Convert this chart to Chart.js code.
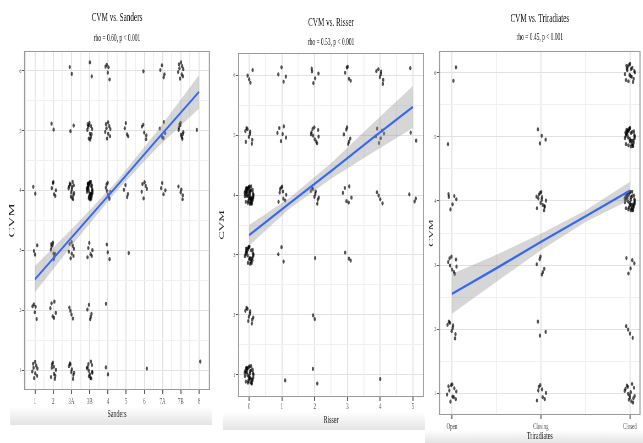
<!DOCTYPE html>
<html>
<head>
<meta charset="utf-8">
<script src="https://cdn.jsdelivr.net/npm/chart.js@4.4.0/dist/chart.umd.min.js"></script>
<style>
  html, body { margin: 0; padding: 0; background: #fff; }
  body { width: 643px; height: 443px; position: relative; overflow: hidden; }
  .panel { position: absolute; top: 0; height: 443px; transform-origin: 0 0; }
</style>
</head>
<body>
<div class="panel"><canvas id="sanders"></canvas></div>
<div class="panel"><canvas id="risser"></canvas></div>
<div class="panel"><canvas id="triradiates"></canvas></div>
<script>
// ---------- data ----------
const cvmLevels = [1, 2, 3, 4, 5, 6];

// Sanders: counts per stage, one array per CVM stage
const sandersLabels = ['1', '2', '3A', '3B', '4', '5', '6', '7A', '7B', '8'];
const sandersX = [1, 2, 3, 4, 5, 6, 7, 8, 9, 10];
const sandersCvm1 = [9, 9, 8, 12, 2, 0, 1, 0, 0, 1];
const sandersCvm2 = [5, 6, 4, 5, 1, 0, 0, 0, 0, 0];
const sandersCvm3 = [3, 9, 8, 6, 3, 1, 0, 0, 0, 0];
const sandersCvm4 = [2, 6, 14, 32, 8, 4, 6, 4, 5, 0];
const sandersCvm5 = [0, 2, 2, 12, 9, 4, 5, 5, 10, 1];
const sandersCvm6 = [0, 0, 2, 2, 5, 0, 1, 4, 9, 0];
const sandersFitX = [1, 3.25, 5.5, 7.75, 10];
const sandersFit = [2.52, 3.30, 4.08, 4.87, 5.65];
const sandersUpper = [2.74, 3.43, 4.16, 5.01, 5.93];
const sandersLower = [2.30, 3.17, 4.00, 4.73, 5.37];

// Risser
const risserLabels = ['0', '1', '2', '3', '4', '5'];
const risserX = [0, 1, 2, 3, 4, 5];
const risserCvm1 = [32, 1, 2, 0, 1, 0];
const risserCvm2 = [10, 0, 2, 0, 0, 0];
const risserCvm3 = [26, 3, 1, 3, 0, 0];
const risserCvm4 = [45, 9, 9, 6, 4, 3];
const risserCvm5 = [9, 6, 10, 6, 6, 2];
const risserCvm6 = [4, 4, 5, 5, 7, 1];
const risserFitX = [0, 1.25, 2.5, 3.75, 5];
const risserFit = [3.33, 3.87, 4.40, 4.94, 5.47];
const risserUpper = [3.50, 3.96, 4.53, 5.18, 5.82];
const risserLower = [3.16, 3.78, 4.27, 4.70, 5.12];

// Triradiates
const triLabels = ['Open', 'Closing', 'Closed'];
const triX = [1, 2, 3];
const triCvm1 = [11, 8, 15];
const triCvm2 = [8, 3, 4];
const triCvm3 = [9, 6, 5];
const triCvm4 = [6, 14, 40];
const triCvm5 = [1, 4, 32];
const triCvm6 = [2, 0, 18];
const triFitX = [1, 1.5, 2, 2.5, 3];
const triFit = [2.55, 2.95, 3.36, 3.76, 4.16];
const triUpper = [2.86, 3.16, 3.49, 3.85, 4.30];
const triLower = [2.24, 2.74, 3.23, 3.67, 4.02];

// ---------- drawing ----------
const FONT = "'Liberation Serif', 'DejaVu Serif', serif";
const SQUASH = 0.55; // the original panels are narrowed horizontally

// fixed jitter pattern (-1..1), reused for every cell
const jitterX = [0.12, -0.64, 0.83, -0.27, 0.45, -0.91, 0.06, 0.71, -0.48, 0.33, -0.12, 0.94, -0.73, 0.22, -0.38, 0.58, -0.05, -0.82, 0.67, 0.15,
                 -0.56, 0.89, -0.19, 0.41, -0.97, 0.28, 0.76, -0.33, 0.02, -0.69, 0.52, -0.44, 0.86, -0.08, 0.37, -0.77, 0.63, -0.23, 0.19, -0.58];
const jitterY = [-0.35, 0.72, 0.18, -0.88, 0.51, -0.14, 0.93, -0.62, 0.27, -0.41, 0.84, 0.03, -0.76, 0.39, 0.66, -0.97, -0.21, 0.45, -0.53, 0.11,
                 0.78, -0.29, -0.68, 0.96, 0.24, -0.84, 0.57, -0.06, -0.47, 0.31, -0.92, 0.69, -0.17, 0.87, -0.73, 0.08, -0.39, 0.61, -0.99, 0.42];

const buildPoints = (xs, rows, jx, jy) => {
    const pts = [];
    rows.forEach((row, r) => {
        row.forEach((n, c) => {
            for (let i = 0; i < n; i++) {
                const k = (i + c * 7 + r * 13) % jitterX.length;
                // second lap through the pattern is mirrored so it does not sit on the first
                const flip = Math.floor(i / jitterX.length) % 2 ? -0.6 : 1;
                pts.push({ x: xs[c] + jitterX[k] * jx * flip, y: cvmLevels[r] + jitterY[k] * jy * flip });
            }
        });
    });
    return pts;
};

const toXY = (xs, ys) => xs.map((x, i) => ({ x: x, y: ys[i] }));

// white panel, caption strip and border
const panelFrame = {
    id: 'panelFrame',
    beforeDraw(chart, args, o) {
        const ctx = chart.ctx, a = chart.chartArea;
        ctx.save();
        const g = ctx.createLinearGradient(0, o.strip[2], 0, o.strip[3]);
        g.addColorStop(0, '#ffffff');
        g.addColorStop(1, '#e4e4e4');
        ctx.fillStyle = g;
        ctx.fillRect(o.strip[0] / SQUASH, o.strip[2], (o.strip[1] - o.strip[0]) / SQUASH, o.strip[3] - o.strip[2]);
        ctx.fillStyle = '#ffffff';
        ctx.fillRect(a.left, a.top, a.right - a.left, a.bottom - a.top);
        ctx.restore();
    },
    afterDraw(chart) {
        const ctx = chart.ctx, a = chart.chartArea;
        ctx.save();
        ctx.strokeStyle = '#9a9a9a';
        ctx.lineWidth = 1;
        ctx.beginPath();
        ctx.moveTo(a.left, a.top + 0.5); ctx.lineTo(a.right, a.top + 0.5);
        ctx.moveTo(a.left, a.bottom - 0.5); ctx.lineTo(a.right, a.bottom - 0.5);
        ctx.stroke();
        ctx.lineWidth = 1 / SQUASH;
        ctx.beginPath();
        ctx.moveTo(a.left + 1, a.top); ctx.lineTo(a.left + 1, a.bottom);
        ctx.moveTo(a.right - 1, a.top); ctx.lineTo(a.right - 1, a.bottom);
        ctx.stroke();
        ctx.restore();
    }
};

const major = (v) => Math.abs(v - Math.round(v)) < 1e-6;

const makePanel = (p) => {
    const canvas = document.getElementById(p.id);
    const W = Math.round(p.screenWidth / SQUASH);
    canvas.width = W;
    canvas.height = 443;
    canvas.style.width = W + 'px';
    canvas.style.height = '443px';
    const box = canvas.parentNode;
    box.style.left = p.left + 'px';
    box.style.width = W + 'px';
    box.style.transform = 'scaleX(' + SQUASH + ')';

    const plotLeft = p.plotLeft / SQUASH;
    const plotRight = p.plotRight / SQUASH;

    return new Chart(canvas, {
        type: 'scatter',
        data: {
            datasets: [
                { type: 'line', data: toXY(p.fitX, p.fit), borderColor: '#3366ff', borderWidth: 2.4, pointRadius: 0, fill: false },
                { type: 'line', data: toXY(p.fitX, p.lower), borderColor: 'rgba(0,0,0,0)', borderWidth: 1, pointRadius: 0, fill: false },
                { type: 'line', data: toXY(p.fitX, p.upper), borderColor: 'rgba(0,0,0,0)', borderWidth: 1, pointRadius: 0,
                  fill: '-1', backgroundColor: 'rgba(153,153,153,0.4)' },
                { data: buildPoints(p.xs, p.rows, p.jx, 0.15), pointRadius: 2.1, backgroundColor: 'rgba(0,0,0,0.68)',
                  borderColor: 'rgba(0,0,0,0)', borderWidth: 0 }
            ]
        },
        options: {
            responsive: false,
            animation: false,
            events: [],
            layout: { padding: { top: p.padTop, left: p.padLeft, right: W - plotRight, bottom: p.padBottom } },
            scales: {
                x: {
                    type: 'linear', min: p.xMin, max: p.xMax,
                    afterFit: (s) => { s.height = p.xHeight; },
                    border: { display: false },
                    grid: {
                        color: (c) => major(c.tick.value) ? '#e2e2e2' : '#f0f0f0',
                        lineWidth: 1 / SQUASH,
                        tickLength: 4,
                        tickWidth: 1 / SQUASH,
                        tickColor: (c) => major(c.tick.value) ? '#555' : 'rgba(0,0,0,0)'
                    },
                    ticks: {
                        stepSize: 0.5, includeBounds: false, autoSkip: false, maxRotation: 0,
                        padding: p.xTickPad, color: '#555', font: { family: FONT, size: 9 },
                        callback: (v) => major(v) ? p.xLabel(Math.round(v)) : ''
                    },
                    title: { display: true, text: p.xTitle, color: '#222', font: { family: FONT, size: 11 }, padding: { top: 0, bottom: 0 } }
                },
                y: {
                    type: 'linear', min: p.yMin, max: p.yMax,
                    afterFit: (s) => { s.width = plotLeft - p.padLeft; },
                    border: { display: false },
                    grid: {
                        color: (c) => major(c.tick.value) ? '#e2e2e2' : '#f0f0f0',
                        lineWidth: 1,
                        tickLength: 4,
                        tickColor: (c) => major(c.tick.value) ? '#555' : 'rgba(0,0,0,0)'
                    },
                    ticks: {
                        stepSize: 0.5, includeBounds: false, autoSkip: false,
                        padding: 1, color: '#555', font: { family: FONT, size: 7 },
                        callback: (v) => major(v) ? String(Math.round(v)) : ''
                    },
                    title: { display: true, text: 'CVM', color: '#222', font: { family: FONT, size: p.cvmSize },
                             padding: { top: p.cvmPad, bottom: 0 } }
                }
            },
            plugins: {
                legend: { display: false },
                tooltip: { enabled: false },
                title: { display: true, text: p.title, fullSize: false, color: '#111',
                         font: { family: FONT, size: 13, weight: 'normal' }, padding: { top: p.titlePad, bottom: 0 } },
                subtitle: { display: true, text: p.subtitle, fullSize: false, color: '#111',
                            font: { family: FONT, size: 10 }, padding: { top: p.subPad[0], bottom: p.subPad[1] } },
                panelFrame: { strip: p.strip }
            }
        },
        plugins: [panelFrame]
    });
};

makePanel({
    id: 'sanders', left: 0, screenWidth: 215, plotLeft: 24, plotRight: 210,
    padTop: 4, padLeft: 4, padBottom: 21.9, xHeight: 31.1, xTickPad: 2.6,
    titlePad: 6.2, subPad: [6.2, 7], cvmSize: 15, cvmPad: 8.8,
    xMin: 0.4, xMax: 10.6, yMin: 0.67, yMax: 6.33,
    xs: sandersX, xLabel: (v) => sandersLabels[v - 1] || '', jx: 0.16,
    rows: [sandersCvm1, sandersCvm2, sandersCvm3, sandersCvm4, sandersCvm5, sandersCvm6],
    fitX: sandersFitX, fit: sandersFit, upper: sandersUpper, lower: sandersLower,
    title: 'CVM vs. Sanders', subtitle: 'rho = 0.60, p < 0.001', xTitle: 'Sanders',
    strip: [10, 212, 407, 425]
});

makePanel({
    id: 'risser', left: 215, screenWidth: 213, plotLeft: 23, plotRight: 209,
    padTop: 8.5, padLeft: 0, padBottom: 16.4, xHeight: 29.6, xTickPad: 0,
    titlePad: 6.2, subPad: [6.2, 4.5], cvmSize: 13, cvmPad: 4.9,
    xMin: -0.34, xMax: 5.34, yMin: 0.63, yMax: 6.37,
    xs: risserX, xLabel: (v) => risserLabels[v] || '', jx: 0.14,
    rows: [risserCvm1, risserCvm2, risserCvm3, risserCvm4, risserCvm5, risserCvm6],
    fitX: risserFitX, fit: risserFit, upper: risserUpper, lower: risserLower,
    title: 'CVM vs. Risser', subtitle: 'rho = 0.53, p < 0.001', xTitle: 'Risser',
    strip: [8, 210, 412, 430]
});

makePanel({
    id: 'triradiates', left: 420, screenWidth: 223, plotLeft: 19, plotRight: 223,
    padTop: 4, padLeft: 0, padBottom: 0, xHeight: 28, xTickPad: 2.6,
    titlePad: 7.2, subPad: [4.2, 8], cvmSize: 12, cvmPad: 13.7,
    xMin: 0.855, xMax: 3.12, yMin: 0.66, yMax: 6.34,
    xs: triX, xLabel: (v) => triLabels[v - 1] || '', jx: 0.06,
    rows: [triCvm1, triCvm2, triCvm3, triCvm4, triCvm5, triCvm6],
    fitX: triFitX, fit: triFit, upper: triUpper, lower: triLower,
    title: 'CVM vs. Triradiates', subtitle: 'rho = 0.45, p < 0.001', xTitle: 'Triradiates',
    strip: [5, 223, 430, 443]
});
</script>
</body>
</html>
